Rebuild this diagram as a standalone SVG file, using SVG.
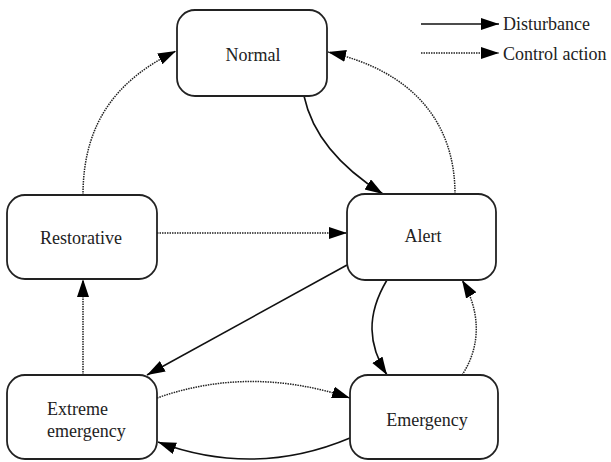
<svg xmlns="http://www.w3.org/2000/svg" width="611" height="462" viewBox="0 0 611 462">
<style>
.box{fill:#fff;stroke:#222;stroke-width:1.8}
.lbl{font-family:'Liberation Serif','DejaVu Serif',serif;font-size:18px;fill:#222}
.mid{text-anchor:middle}
.solid{fill:none;stroke:#111;stroke-width:1.6}
.dot{fill:none;stroke:#222;stroke-width:1.5;stroke-dasharray:1.5 1}
</style>
<defs>
<marker id="ah" markerUnits="userSpaceOnUse" markerWidth="20" markerHeight="14" refX="18" refY="6" orient="auto">
<path d="M0,0 L18,6 L0,12 z" fill="#000"/>
</marker>
</defs>
<rect width="611" height="462" fill="#fff"/>
<g id="legend">
<line class="solid" x1="421" y1="24" x2="499" y2="24" marker-end="url(#ah)"/>
<text class="lbl" x="503" y="29.5" font-family="Liberation Serif, serif">Disturbance</text>
<line class="dot" x1="421" y1="53" x2="499" y2="53" marker-end="url(#ah)"/>
<text class="lbl" x="503" y="59.5" font-family="Liberation Serif, serif">Control action</text>
</g>
<g id="connectors">
<path class="solid" d="M304,96 Q316,152 383,194" marker-end="url(#ah)"/>
<path class="dot" d="M455,194 C455,120 410,70 328,52" marker-end="url(#ah)"/>
<path class="dot" d="M83,195 C83,120 120,78 176,51" marker-end="url(#ah)"/>
<path class="dot" d="M157,233 L347,233" marker-end="url(#ah)"/>
<path class="solid" d="M347,265 L147,375" marker-end="url(#ah)"/>
<path class="solid" d="M387,280 C366,315 368,345 387,375" marker-end="url(#ah)"/>
<path class="dot" d="M462,375 C482,345 480,310 462,280" marker-end="url(#ah)"/>
<path class="dot" d="M157,398 Q250,365 350,398" marker-end="url(#ah)"/>
<path class="solid" d="M350,438 Q255,478 158,442" marker-end="url(#ah)"/>
<path class="dot" d="M83,375 L83,279" marker-end="url(#ah)"/>
</g>
<g id="normal">
<rect class="box" x="177" y="10" width="150" height="86" rx="18"/>
<text class="lbl mid" x="253" y="61">Normal</text>
</g>
<g id="alert">
<rect class="box" x="347" y="194" width="149" height="86" rx="18"/>
<text class="lbl mid" x="423" y="242">Alert</text>
</g>
<g id="restorative">
<rect class="box" x="7" y="195" width="150" height="84" rx="18"/>
<text class="lbl mid" x="81" y="244">Restorative</text>
</g>
<g id="extreme">
<rect class="box" x="7" y="375" width="150" height="84" rx="18"/>
<text class="lbl" x="47" y="415">Extreme</text>
<text class="lbl" x="47" y="437">emergency</text>
</g>
<g id="emergency">
<rect class="box" x="350" y="375" width="148" height="84" rx="18"/>
<text class="lbl mid" x="427" y="426">Emergency</text>
</g>
</svg>
